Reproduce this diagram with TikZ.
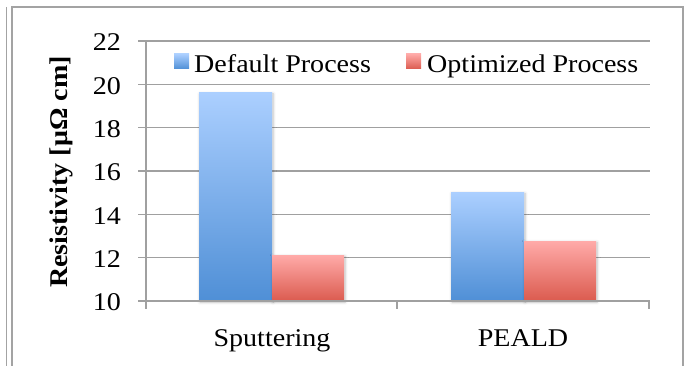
\documentclass[tikz,border=0pt]{standalone}
\usepackage{fontspec}
\setmainfont[FakeStretch=1.1]{Liberation Serif}
\usetikzlibrary{shadows.blur}

\definecolor{framegray}{HTML}{A3A3A3}
\definecolor{gridgray}{HTML}{A0A0A0}
\definecolor{defhi}{HTML}{ABCFFF}
\definecolor{deflo}{HTML}{4F8FD6}
\definecolor{opthi}{HTML}{FFAAA8}
\definecolor{optlo}{HTML}{DB5B4F}

% value -> y position (pixels from top)
\newcommand{\yv}[1]{301-(#1-10)*21.667}

\begin{document}
\begin{tikzpicture}[x=1pt,y=-1pt,
		grid/.style={gridgray, line width=1.5pt},
		lbl/.style={font=\fontsize{25.5}{28}\selectfont, inner sep=0pt},
		barshadow/.style={blur shadow={shadow blur steps=6, shadow xshift=1pt,
			shadow yshift=-1pt, shadow blur radius=3pt, shadow opacity=25}},
		defbar/.style={top color=defhi, bottom color=deflo},
		optbar/.style={top color=opthi, bottom color=optlo}]
		\useasboundingbox (0,0) rectangle (687,366);

		% frame
		\draw[framegray, line width=1.5pt] (6.5,7) -- (6.5,366);
		\draw[framegray, line width=1.5pt] (12,366) -- (12,7) -- (683,7) -- (683,366);

		% grid and y ticks
		\foreach \v in {12,14,...,22}
			\draw[grid] (138,{\yv{\v}}) -- (650,{\yv{\v}});
		\foreach \v in {10,12,...,22}
			\node[lbl, anchor=east] (tick\v) at (121,{\yv{\v}+1.5}) {\v};

		% bars
		\shade[defbar, barshadow] (199,301) rectangle (272,{\yv{19.6}});
		\shade[optbar, barshadow] (272,301) rectangle (344,{\yv{12.1}});
		\shade[defbar, barshadow] (451,301) rectangle (524,{\yv{15}});
		\shade[optbar, barshadow] (524,301) rectangle (596,{\yv{12.75}});

		% axes
		\draw[grid] (146,42) -- (146,309);
		\draw[grid] (138,301) -- (650,301);
		\foreach \x in {397,649}
			\draw[grid] (\x,301) -- (\x,309);

		% category labels
		\node[lbl, anchor=base] (sputter) at (272,346) {Sputtering};
		\node[lbl, anchor=base] (peald) at (523,346) {PEALD};

		% y label
		\node[lbl, font=\fontsize{25.5}{28}\selectfont\bfseries, rotate=90] (ylabel) at (61,172)
			{Resistivity [μΩ cm]};

		% legend
		\shade[defbar] (174,54) rectangle (189,69);
		\node[lbl, anchor=base west] (legdef) at (194,73) {Default Process};
		\shade[optbar] (406,54) rectangle (421,69);
		\node[lbl, anchor=base west] (legopt) at (427,73) {Optimized Process};
	\end{tikzpicture}
\end{document}
